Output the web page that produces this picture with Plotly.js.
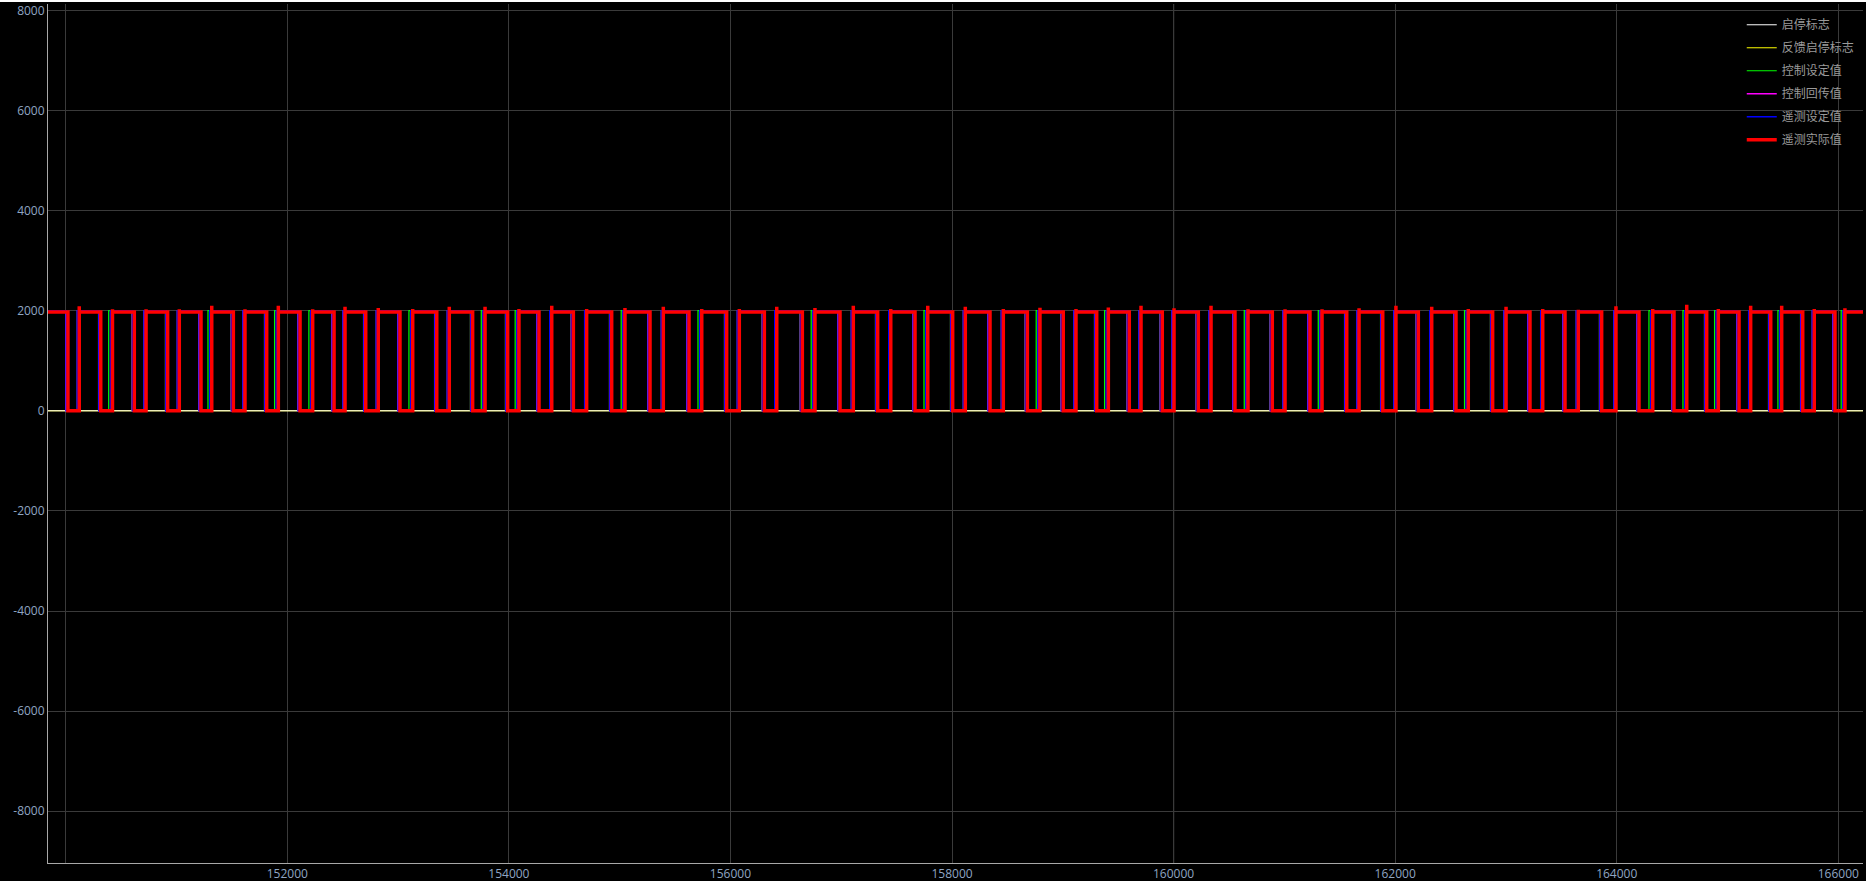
<!DOCTYPE html>
<html><head><meta charset="utf-8">
<script src="https://cdn.plot.ly/plotly-3.0.1.min.js"></script>
<style>html,body{margin:0;padding:0;background:#000;overflow:hidden}#chart{width:1866px;height:879px;border-top:2px solid #fff;}</style>
</head><body><div id="chart"></div><script>
// recorded window
const timeStart = 149840;
const timeEnd = 166223;

const seriesNames = ['启停标志', '反馈启停标志', '控制设定值', '控制回传值', '遥测设定值', '遥测实际值'];
const seriesColors = ['#ffffff', '#ffff00', '#00ff00', '#ff00ff', '#0000ff', '#ff0000'];

const flagLevel = 0;          // 启停标志 / 反馈启停标志
const setLevel = 2000;        // setpoint high level
const actLevel = 1975;        // actual value plateau

// 遥测实际值 (red) edges
const actRise = [150122,150422,150725,151025,151318,151618,151919,152229,152521,152821,153132,153462,153785,154091,154387,154702,155048,155394,155741,156080,156418,156763,157109,157447,157781,158120,158463,158794,159119,159411,159706,160004,160338,160672,161006,161340,161674,162007,162330,162660,163001,163332,163653,163993,164325,164632,164917,165209,165489,165783,166060];
const actFall = [150020,150316,150619,150920,151221,151513,151814,152115,152422,152708,153017,153349,153673,153989,154272,154582,154928,155274,155626,155966,156306,156649,156989,157329,157666,158006,158343,158680,159004,159306,159600,159898,160223,160554,160891,161231,161563,161888,162209,162549,162880,163217,163533,163864,164201,164517,164812,165104,165390,165679,165970];
const actPeak = [2090,2030,2030,2030,2100,2030,2100,2030,2080,2055,2035,2080,2080,2035,2100,2035,2055,2080,2035,2035,2080,2055,2100,2035,2100,2080,2035,2060,2035,2065,2100,2050,2100,2030,2030,2030,2050,2100,2080,2035,2080,2035,2020,2087,2035,2120,2035,2100,2100,2035,2050];

// 遥测设定值 (blue) edges
const setRise = [150104,150404,150707,151007,151300,151600,151901,152211,152503,152803,153114,153444,153767,154073,154369,154684,155030,155376,155723,156062,156400,156745,157091,157429,157763,158102,158445,158776,159101,159393,159688,159986,160320,160654,160988,161322,161656,161989,162312,162642,162983,163314,163635,163975,164307,164614,164899,165191,165471,165765,166042];
const setFall = [150004,150300,150603,150904,151205,151497,151798,152099,152406,152692,153001,153333,153657,153973,154256,154566,154912,155258,155610,155950,156290,156633,156973,157313,157650,157990,158327,158664,158988,159290,159584,159882,160207,160538,160875,161215,161547,161872,162193,162533,162864,163201,163517,163848,164185,164501,164796,165088,165374,165663,165954];

// 控制回传值 (magenta) edges
const retRise = [150106,150406,150709,151009,151302,151602,151903,152213,152505,152805,153116,153446,153769,154075,154371,154686,155032,155378,155725,156064,156402,156747,157093,157431,157765,158104,158447,158778,159103,159395,159690,159988,160322,160656,160990,161324,161658,161991,162314,162644,162985,163316,163637,163977,164309,164616,164901,165193,165473,165767,166044];
const retFall = [150002,150298,150601,150902,151203,151495,151796,152097,152404,152690,152999,153331,153655,153971,154254,154564,154910,155256,155608,155948,156288,156631,156971,157311,157648,157988,158325,158662,158986,159288,159582,159880,160205,160536,160873,161213,161545,161870,162191,162531,162862,163199,163515,163846,164183,164499,164794,165086,165372,165661,165952];

// 控制设定值 (green) edges
const ctrlRise = [150104,150388,150707,151007,151284,151600,151885,152195,152503,152803,153098,153444,153751,154057,154369,154684,155014,155376,155707,156062,156400,156729,157091,157429,157747,158102,158445,158760,159101,159377,159688,159986,160320,160638,160988,161306,161656,161989,162312,162626,162983,163314,163635,163975,164291,164598,164883,165191,165455,165765,166026];
const ctrlFall = [150000,150296,150599,150900,151201,151493,151794,152095,152402,152688,152997,153329,153653,153969,154252,154562,154908,155254,155606,155946,156286,156629,156969,157309,157646,157986,158323,158660,158984,159286,159580,159878,160203,160534,160871,161211,161543,161868,162189,162529,162860,163197,163513,163844,164181,164497,164792,165084,165370,165659,165950];

const cursorTime = 160000;
const yTickVals = [-8000,-6000,-4000,-2000,0,2000,4000,6000,8000];
const xTickVals = [150000,152000,154000,156000,158000,160000,162000,164000,166000];
const xTickText = ['','152000','154000','156000','158000','160000','162000','164000','166000'];

function stepSeries(rises, falls, high, peaks) {
  const x = [timeStart], y = [high];
  for (let k = 0; k < falls.length; k++) {
    x.push(falls[k], falls[k]); y.push(high, 0);
    if (k < rises.length) {
      if (peaks) { x.push(rises[k], rises[k], rises[k]); y.push(0, peaks[k], high); }
      else { x.push(rises[k], rises[k]); y.push(0, high); }
    }
  }
  if (rises.length >= falls.length) { x.push(timeEnd); y.push(high); }
  else { x.push(timeEnd); y.push(0); }
  return {x, y};
}

const flagW = {x: [timeStart, timeEnd], y: [flagLevel, flagLevel]};
const flagY = {x: [timeStart, timeEnd], y: [flagLevel, flagLevel]};
const ctrl = stepSeries(ctrlRise, ctrlFall, setLevel);
const ret = stepSeries(retRise, retFall, setLevel);
const tset = stepSeries(setRise, setFall, setLevel);
const act = stepSeries(actRise, actFall, actLevel, actPeak);

const widths = [1, 1, 1.2, 1.5, 1.5, 3.5];
const dataSets = [flagW, flagY, ctrl, ret, tset, act];
const drawOrder = [1, 0, 2, 3, 4, 5];
const traces = drawOrder.map(i => ({
  type: 'scatter', mode: 'lines',
  x: dataSets[i].x, y: dataSets[i].y,
  name: seriesNames[i], legendrank: i + 1, legendgroup: 'g' + i,
  line: {color: seriesColors[i], width: widths[i]},
  hoverinfo: 'skip'
}));

const axisFont = {family: 'Open Sans, Noto Sans, sans-serif', size: 12, color: '#8fa5c2'};
const layout = {
  width: 1866, height: 879,
  margin: {l: 48, r: 3, t: 2, b: 18},
  paper_bgcolor: '#000', plot_bgcolor: '#000',
  showlegend: true,
  legend: {x: 0.9332, xanchor: 'left', y: 0.9927, yanchor: 'top', bgcolor: 'rgba(0,0,0,0)',
           font: {family: 'Noto Sans CJK SC, sans-serif', size: 12, color: '#9a9a9a'},
           tracegroupgap: 4, traceorder: 'grouped'},
  xaxis: {range: [timeStart, timeEnd], tickmode: 'array', tickvals: xTickVals, ticktext: xTickText,
          showgrid: true, gridcolor: '#3a3a3a', gridwidth: 1, zeroline: false, ticklabeloverflow: 'allow',
          showline: true, linecolor: '#a8a8a8', linewidth: 1, ticks: '', tickfont: axisFont},
  yaxis: {range: [-9033, 8126], tickmode: 'array', tickvals: yTickVals, ticktext: yTickVals.map(String),
          showgrid: true, gridcolor: '#3a3a3a', gridwidth: 1, zeroline: false, ticklabeloverflow: 'allow',
          showline: true, linecolor: '#a8a8a8', linewidth: 1, ticks: '', tickfont: axisFont},
  shapes: [{type: 'line', xref: 'x', yref: 'paper', x0: cursorTime, x1: cursorTime, y0: 0, y1: 1,
            line: {color: '#b4b4b4', width: 1}, layer: 'below'}]
};
Plotly.newPlot('chart', traces, layout, {displayModeBar: false, staticPlot: true});
</script></body></html>
